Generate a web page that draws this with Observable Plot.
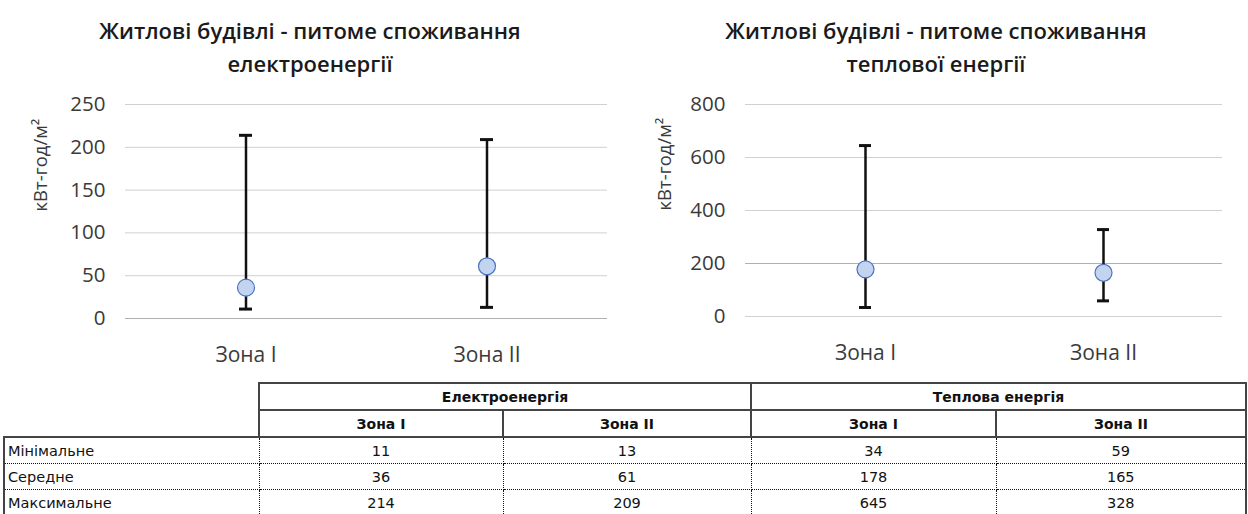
<!DOCTYPE html>
<html>
<head>
<meta charset="utf-8">
<script src="https://cdn.jsdelivr.net/npm/d3@7"></script>
<script src="https://cdn.jsdelivr.net/npm/@observablehq/plot@0.6"></script>
<style>
  html, body { margin: 0; padding: 0; background: #fff; }
  #root { position: relative; width: 1248px; height: 514px; overflow: hidden; background: #fff; }
  .title { position: absolute; top: 14px; text-align: center; font-family: "Open Sans", sans-serif; font-size: 22px; font-weight: 600; line-height: 33px; color: #1a1a1a; white-space: nowrap; }
  .chart { position: absolute; top: 85px; }
  table { position: absolute; left: 3px; top: 382px; border-collapse: collapse; table-layout: fixed; font-family: "DejaVu Sans", sans-serif; font-size: 14.5px; color: #111; }
  td, th { height: 25px; padding: 0 3px; text-align: center; white-space: nowrap; }
  th { font-weight: bold; font-size: 14px; border: 2px solid #444; }
  th.empty { border: none; }
  td { border: 1.5px dotted #111; }
  td.lab { text-align: left; border-left: 2px solid #444; }
  td.last { border-right: 2px solid #444; }
  tr.first td { border-top: 2px solid #444; }
</style>
</head>
<body>
<div id="root"></div>
<script>
// ---- data ----
const zones = ["Зона I", "Зона II"];
const elecMin = [11, 13];
const elecMean = [36, 61];
const elecMax = [214, 209];
const heatMin = [34, 59];
const heatMean = [178, 165];
const heatMax = [645, 328];
const elecTicks = [0, 50, 100, 150, 200, 250];
const heatTicks = [0, 200, 400, 600, 800];
const elecAxisAt = [0];
const heatAxisAt = [200];
const titles = [
  ["Житлові будівлі - питоме споживання", "електроенергії"],
  ["Житлові будівлі - питоме споживання", "теплової енергії"]
];
const unitLabel = "кВт-год/м²";
const groupLabels = ["Електроенергія", "Теплова енергія"];
const rowLabels = ["Мінімальне", "Середне", "Максимальне"];

const root = document.getElementById("root");

function rows(mins, means, maxs) {
  return zones.map((z, i) => ({zone: z, min: mins[i], mean: means[i], max: maxs[i]}));
}

function chart({data, ticks, axisAt, marginLeft, marginRight, marginBottom, inset}) {
  return Plot.plot({
    width: 624,
    height: 290,
    marginTop: 19,
    marginBottom,
    marginLeft,
    marginRight,
    style: {fontFamily: "Open Sans, sans-serif", background: "transparent", color: "#3a3a3a", overflow: "visible"},
    x: {type: "band", domain: zones, padding: 0},
    y: {domain: [ticks[0], ticks[ticks.length - 1]]},
    marks: [
      Plot.gridY(ticks, {stroke: "#d0d0d0", strokeOpacity: 1}),
      Plot.ruleY(axisAt, {stroke: "#b0b0b0", strokeWidth: 1.2}),
      Plot.axisY({ticks, tickSize: 0, tickPadding: 20, fontSize: 20.5, label: null}),
      Plot.axisX({tickSize: 0, tickPadding: 29, fontSize: 21, label: null}),
      Plot.text([unitLabel], {frameAnchor: "left", rotate: -90, lineAnchor: "top", dx: -(marginLeft - 33), fontSize: 18.5, fill: "#3a3a3a"}),
      Plot.ruleX(data, {x: "zone", y1: "min", y2: "max", stroke: "#111", strokeWidth: 2.5}),
      Plot.tickY(data, {x: "zone", y: "min", stroke: "#111", strokeWidth: 3, inset}),
      Plot.tickY(data, {x: "zone", y: "max", stroke: "#111", strokeWidth: 3, inset}),
      Plot.dot(data, {x: "zone", y: "mean", r: 8.5, fill: "#c3d4f0", stroke: "#4a74c0", strokeWidth: 1.2})
    ]
  });
}

// titles
[[0, 310], [1, 936]].forEach(([i, cx]) => {
  const t = document.createElement("div");
  t.className = "title";
  t.style.left = (cx - 300) + "px";
  t.style.width = "600px";
  t.innerHTML = titles[i].join("<br>");
  root.appendChild(t);
});

const c1 = document.createElement("div");
c1.className = "chart";
c1.style.left = "0px";
c1.appendChild(chart({data: rows(elecMin, elecMean, elecMax), ticks: elecTicks, axisAt: elecAxisAt, marginLeft: 125, marginRight: 17, marginBottom: 57, inset: 114}));
root.appendChild(c1);

const c2 = document.createElement("div");
c2.className = "chart";
c2.style.left = "624px";
c2.appendChild(chart({data: rows(heatMin, heatMean, heatMax), ticks: heatTicks, axisAt: heatAxisAt, marginLeft: 121, marginRight: 26, marginBottom: 59, inset: 113}));
root.appendChild(c2);

// table
const colWidths = [255, 244, 248, 245, 250];
const table = document.createElement("table");
const cg = document.createElement("colgroup");
colWidths.forEach(w => { const c = document.createElement("col"); c.style.width = w + "px"; cg.appendChild(c); });
table.appendChild(cg);
const h1 = document.createElement("tr");
h1.innerHTML = `<th class="empty"></th>` + groupLabels.map(g => `<th colspan="2">${g}</th>`).join("");
table.appendChild(h1);
const h2 = document.createElement("tr");
h2.innerHTML = `<th class="empty"></th>` + groupLabels.map(() => zones.map(z => `<th>${z}</th>`).join("")).join("");
table.appendChild(h2);
const series = [[elecMin, heatMin], [elecMean, heatMean], [elecMax, heatMax]];
rowLabels.forEach((lab, r) => {
  const tr = document.createElement("tr");
  if (r === 0) tr.className = "first";
  const vals = [...series[r][0], ...series[r][1]];
  tr.innerHTML = `<td class="lab">${lab}</td>` + vals.map((v, i) => `<td${i === vals.length - 1 ? ' class="last"' : ''}>${v}</td>`).join("");
  table.appendChild(tr);
});
root.appendChild(table);
</script>
</body>
</html>
